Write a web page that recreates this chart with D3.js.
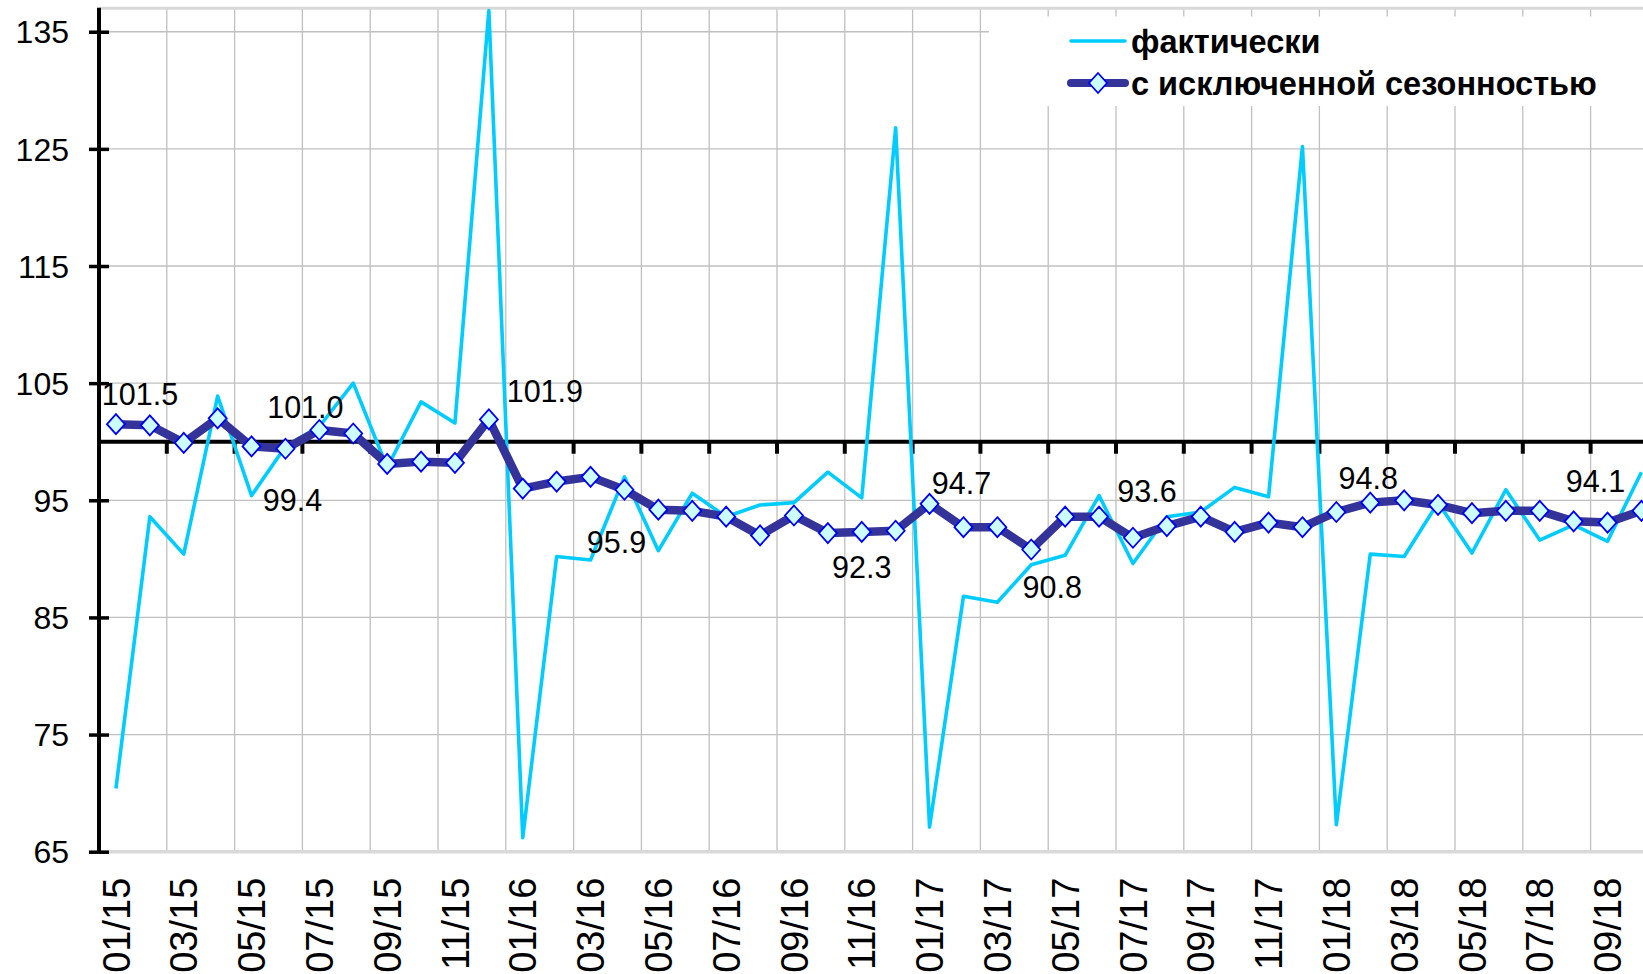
<!DOCTYPE html>
<html>
<head>
<meta charset="utf-8">
<script src="https://cdn.jsdelivr.net/npm/d3@7"></script>
<style>
  html, body { margin: 0; padding: 0; background: #ffffff; overflow: hidden; }
  svg { display: block; font-family: "Liberation Sans", Arial, sans-serif; }
</style>
</head>
<body>
<svg id="chart" width="1643" height="974"></svg>
<script>
// ---------- data ----------
const categories = [
  "01/15","02/15","03/15","04/15","05/15","06/15","07/15","08/15","09/15","10/15","11/15","12/15",
  "01/16","02/16","03/16","04/16","05/16","06/16","07/16","08/16","09/16","10/16","11/16","12/16",
  "01/17","02/17","03/17","04/17","05/17","06/17","07/17","08/17","09/17","10/17","11/17","12/17",
  "01/18","02/18","03/18","04/18","05/18","06/18","07/18","08/18","09/18","10/18"
];
const actual = [
  70.4, 93.6, 90.4, 103.9, 95.4, 99.6, 101.3, 105.0, 97.8, 103.4, 101.6, 136.8,
  66.2, 90.2, 89.9, 97.0, 90.7, 95.6, 93.6, 94.6, 94.8, 97.4, 95.2, 126.8,
  67.1, 86.8, 86.3, 89.5, 90.3, 95.4, 89.6, 93.6, 94.0, 96.1, 95.3, 125.2,
  67.3, 90.4, 90.2, 94.8, 90.5, 95.9, 91.6, 92.9, 91.5, 97.4
];
const seasonallyAdjusted = [
  101.5, 101.4, 99.9, 102.0, 99.6, 99.4, 101.0, 100.7, 98.1, 98.3, 98.2, 101.9,
  96.0, 96.6, 97.0, 95.9, 94.2, 94.1, 93.6, 92.0, 93.7, 92.2, 92.3, 92.4,
  94.7, 92.7, 92.7, 90.8, 93.6, 93.6, 91.8, 92.8, 93.6, 92.3, 93.1, 92.7,
  94.0, 94.8, 95.0, 94.6, 93.9, 94.1, 94.1, 93.2, 93.1, 94.1
];
const yTicks = [65, 75, 85, 95, 105, 115, 125, 135];
const seriesNames = ["фактически", "с исключенной сезонностью"];
const labelledPoints = [0, 5, 6, 11, 15, 22, 24, 27, 29, 37, 45];

// ---------- layout ----------
const plotLeft = 99, plotTop = 8.3, plotBottom = 851.7, bandStep = 33.9;
const plotRight = plotLeft + categories.length * bandStep;
const yMin = 65, yMax = 137, crossAt = 100;
// offsets of data labels (centre of text relative to the point)
const labelOffsets = {
  0: [24, -30], 5: [7, 51], 6: [-14, -23], 11: [56, -28], 15: [-8, 52],
  22: [0, 35], 24: [32, -21], 27: [21, 38], 29: [48, -26], 37: [-2, -25], 45: [-46, -30]
};

const colActual = "#00CCFF", colSA = "#333399", colMarkerFill = "#CCFFFF", colMarkerStroke = "#0000FF";
const colGrid = "#C0C0C0", colBorder = "#D9D9D9";

const svg = d3.select("#chart");

const x = d3.scaleBand().domain(categories).range([plotLeft, plotRight]).paddingInner(0).paddingOuter(0);
const cx = c => x(c) + x.bandwidth() / 2;
const y = d3.scaleLinear().domain([yMin, yMax]).range([plotBottom, plotTop]);

// ---------- grid ----------
const grid = svg.append("g");
grid.selectAll("line.h").data(yTicks).join("line")
  .attr("x1", plotLeft).attr("x2", plotRight)
  .attr("y1", d => y(d)).attr("y2", d => y(d))
  .attr("stroke", colGrid).attr("stroke-width", 1.3);
const boundaryCats = categories.filter((c, i) => i > 0 && i % 2 === 0);
grid.selectAll("line.v").data(boundaryCats).join("line")
  .attr("x1", d => x(d)).attr("x2", d => x(d))
  .attr("y1", plotTop).attr("y2", plotBottom)
  .attr("stroke", colGrid).attr("stroke-width", 1.3);

// plot-area border (top and bottom visible)
svg.append("line").attr("x1", plotLeft).attr("x2", plotRight).attr("y1", y(yMax)).attr("y2", y(yMax))
  .attr("stroke", colBorder).attr("stroke-width", 3);
svg.append("line").attr("x1", plotLeft).attr("x2", plotRight).attr("y1", y(yMin)).attr("y2", y(yMin))
  .attr("stroke", colBorder).attr("stroke-width", 3.5);

// ---------- legend box (covers gridlines) ----------
const legendLeft = 989, legendTop = 16.5, legendBottom = 106;
svg.append("rect").attr("x", legendLeft).attr("y", legendTop)
  .attr("width", 1643 - legendLeft + 20).attr("height", legendBottom - legendTop)
  .attr("fill", "#ffffff");

// ---------- axes ----------
const yAxis = d3.axisLeft(y).tickValues(yTicks).tickSizeInner(10).tickSizeOuter(0).tickPadding(20)
  .tickFormat(d3.format("d"));
const yg = svg.append("g").attr("transform", `translate(${plotLeft},0)`).call(yAxis);
yg.select(".domain").remove();
yg.selectAll(".tick line").attr("x1", 10).attr("stroke", "#000").attr("stroke-width", 3.5);
yg.selectAll(".tick text").attr("font-size", 32).attr("fill", "#000")
  .attr("font-family", "'Liberation Sans', Arial, sans-serif").attr("dy", "0.35em");
svg.append("line").attr("x1", plotLeft).attr("x2", plotLeft).attr("y1", plotTop - 0.5).attr("y2", plotBottom + 1.5)
  .attr("stroke", "#000").attr("stroke-width", 4);

// category axis crossing at 100
const xg = svg.append("g");
xg.append("line").attr("x1", plotLeft).attr("x2", plotRight)
  .attr("y1", y(crossAt)).attr("y2", y(crossAt)).attr("stroke", "#000").attr("stroke-width", 4);
xg.selectAll("line.tk").data(boundaryCats).join("line")
  .attr("x1", d => x(d)).attr("x2", d => x(d))
  .attr("y1", y(crossAt)).attr("y2", y(crossAt) + 12)
  .attr("stroke", "#000").attr("stroke-width", 4);

// category labels at the bottom
const labelCats = categories.filter((c, i) => i % 2 === 0);
svg.append("g").selectAll("text").data(labelCats).join("text")
  .attr("transform", d => `translate(${cx(d)},${plotBottom + 26}) rotate(-90)`)
  .attr("text-anchor", "end").attr("dy", "0.36em")
  .attr("font-size", 38).attr("fill", "#000")
  .text(d => d);

// ---------- series ----------
const line = vals => d3.line().x((d, i) => cx(categories[i])).y(d => y(d))(vals);

svg.append("path").attr("d", line(actual))
  .attr("fill", "none").attr("stroke", colActual).attr("stroke-width", 3.6)
  .attr("stroke-linejoin", "round");

svg.append("path").attr("d", line(seasonallyAdjusted))
  .attr("fill", "none").attr("stroke", colSA).attr("stroke-width", 8.5)
  .attr("stroke-linejoin", "round");

const diamond = "M0,-10L9,0L0,10L-9,0Z";
svg.append("g").selectAll("path").data(seasonallyAdjusted).join("path")
  .attr("transform", (d, i) => `translate(${cx(categories[i])},${y(d)})`)
  .attr("d", diamond)
  .attr("fill", colMarkerFill).attr("stroke", colMarkerStroke).attr("stroke-width", 1.8);

// data labels
const fmt = d3.format(".1f");
svg.append("g").selectAll("text").data(labelledPoints).join("text")
  .attr("x", i => cx(categories[i]) + labelOffsets[i][0])
  .attr("y", i => y(seasonallyAdjusted[i]) + labelOffsets[i][1])
  .attr("dy", "0.36em").attr("text-anchor", "middle")
  .attr("font-size", 30.5).attr("fill", "#000")
  .text(i => fmt(seasonallyAdjusted[i]));

// ---------- legend ----------
const lg = svg.append("g");
const rowY = [41, 83];
const sampleX1 = 1071, sampleX2 = 1125;
lg.append("line").attr("x1", sampleX1).attr("x2", sampleX2).attr("y1", rowY[0]).attr("y2", rowY[0])
  .attr("stroke", colActual).attr("stroke-width", 3.6).attr("stroke-linecap", "round");
lg.append("line").attr("x1", sampleX1).attr("x2", sampleX2).attr("y1", rowY[1]).attr("y2", rowY[1])
  .attr("stroke", colSA).attr("stroke-width", 8).attr("stroke-linecap", "round");
lg.append("path").attr("transform", `translate(${(sampleX1 + sampleX2) / 2},${rowY[1]})`)
  .attr("d", diamond).attr("fill", colMarkerFill).attr("stroke", colMarkerStroke).attr("stroke-width", 1.8);
lg.selectAll("text").data(seriesNames).join("text")
  .attr("x", 1131).attr("y", (d, i) => rowY[i]).attr("dy", "0.36em")
  .attr("font-size", 32.5).attr("font-weight", "bold").attr("fill", "#000")
  .text(d => d);
</script>
</body>
</html>
